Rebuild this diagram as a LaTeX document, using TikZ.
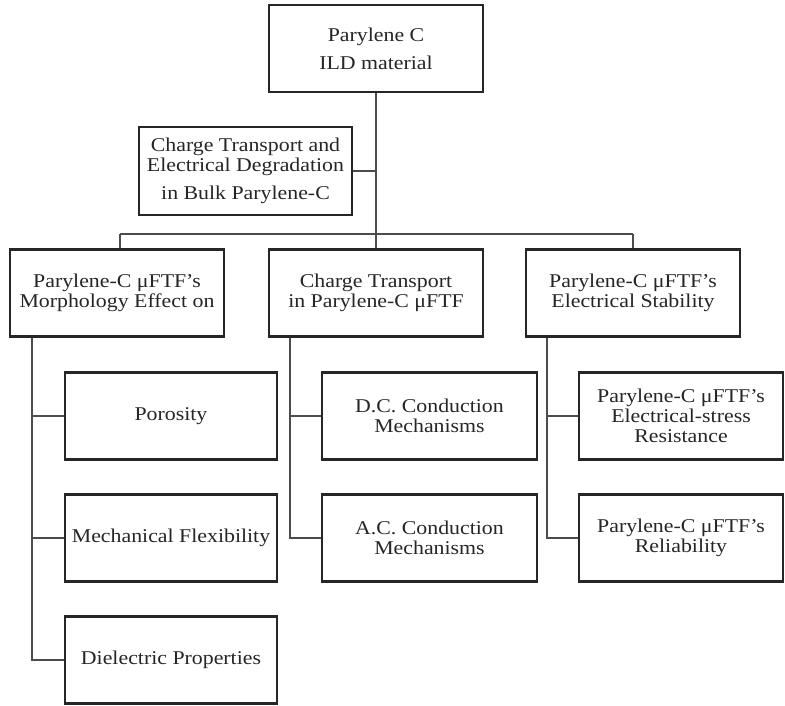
\documentclass[tikz,border=0pt]{standalone}
\usepackage{fontspec}
\setmainfont[FakeStretch=1.12]{Liberation Serif}
\begin{document}
\begin{tikzpicture}[x=1pt,y=-1pt,
        boite/.style={draw=black!85, line width=2.4pt, fill=white, text=black!85, align=center,
            minimum width=214pt, minimum height=87pt, inner sep=2pt, font=\fontsize{19.5}{20}\selectfont},
        lien/.style={draw=black!70, line width=1.4pt}]
        \useasboundingbox (0,0) rectangle (785,706);

        % Boîtes
        \node[boite] (ild) at (376,48.5) {Parylene C\\[8pt]ILD material};
        \node[boite, minimum width=213pt, minimum height=88pt] (bulk) at (245.5,171) {Charge Transport and\\Electrical Degradation\\[8pt]in Bulk Parylene-C};
        \node[boite] (morph) at (117,293) {Parylene-C μFTF’s\\Morphology Effect on};
        \node[boite] (transp) at (376,293) {Charge Transport\\in Parylene-C μFTF};
        \node[boite] (stab) at (633,293) {Parylene-C μFTF’s\\Electrical Stability};
        \node[boite, minimum width=212pt] (poro) at (171,416) {Porosity};
        \node[boite, minimum width=212pt] (meca) at (171,538) {Mechanical Flexibility};
        \node[boite, minimum width=212pt] (diel) at (171,660) {Dielectric Properties};
        \node[boite, minimum width=215pt] (dc) at (429.5,416) {D.C. Conduction\\Mechanisms};
        \node[boite, minimum width=215pt] (ac) at (429.5,538) {A.C. Conduction\\Mechanisms};
        \node[boite, minimum width=204pt] (stress) at (681,416) {Parylene-C μFTF’s\\Electrical-stress\\Resistance};
        \node[boite, minimum width=204pt] (fiab) at (681,538) {Parylene-C μFTF’s\\Reliability};

        % Liens du haut
        \coordinate (bar) at (376,234);
        \coordinate (barg) at (120,234);
        \coordinate (bard) at (633,234);
        \draw[lien] (ild.south) -- (bar);
        \draw[lien] (bulk.east) -- (bulk.east -| ild.south);
        \draw[lien] (barg) -- (bard);
        \draw[lien] (barg) -- (barg |- morph.north);
        \draw[lien] (bar) -- (transp.north);
        \draw[lien] (bard) -- (stab.north);

        % Liens des colonnes
        \coordinate (c1) at ([xshift=23pt]morph.south west);
        \coordinate (c2) at ([xshift=22pt]transp.south west);
        \coordinate (c3) at ([xshift=22pt]stab.south west);
        \draw[lien] (c1) |- (diel.west);
        \draw[lien] (poro.west) -- (poro.west -| c1);
        \draw[lien] (meca.west) -- (meca.west -| c1);
        \draw[lien] (c2) |- (ac.west);
        \draw[lien] (dc.west) -- (dc.west -| c2);
        \draw[lien] (c3) |- (fiab.west);
        \draw[lien] (stress.west) -- (stress.west -| c3);
    \end{tikzpicture}
\end{document}
